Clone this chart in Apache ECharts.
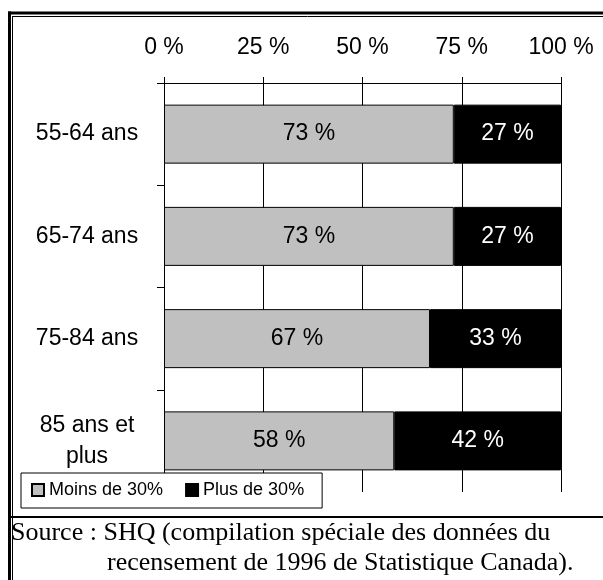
<!DOCTYPE html>
<html>
<head>
<meta charset="utf-8">
<script src="https://cdn.jsdelivr.net/npm/echarts@6/dist/echarts.min.js"></script>
<style>
  html, body { margin: 0; padding: 0; background: #fff; }
  #chart { width: 603px; height: 580px; }
</style>
</head>
<body>
<div id="chart"></div>
<script>
// Age groups and share of households by housing-cost ratio
const categories = ['55-64 ans', '65-74 ans', '75-84 ans', '85 ans et\nplus'];
const moinsDe30 = [73, 73, 67, 58];
const plusDe30 = [27, 27, 33, 42];
const seriesNames = ['Moins de 30%', 'Plus de 30%'];
const sourceLines = [
  'Source : SHQ (compilation spéciale des données du',
  'recensement de 1996 de Statistique Canada).'
];

const SANS = '"Liberation Sans", Arial, sans-serif';
const SERIF = '"Liberation Serif", "Times New Roman", serif';

const chart = echarts.init(document.getElementById('chart'), null, { renderer: 'canvas' });

chart.setOption({
  animation: false,
  backgroundColor: '#fff',
  grid: { left: 164, right: 42, top: 83, height: 409, containLabel: false },
  xAxis: {
    type: 'value',
    position: 'top',
    min: 0,
    max: 100,
    interval: 25,
    axisLine: { show: true, lineStyle: { color: '#000', width: 1 } },
    axisTick: { show: true, length: 6, lineStyle: { color: '#000' } },
    axisLabel: {
      formatter: '{value} %',
      color: '#000',
      fontFamily: SANS,
      fontSize: 23,
      margin: 24
    },
    splitLine: { show: true, lineStyle: { color: '#000', width: 1 } }
  },
  yAxis: {
    type: 'category',
    inverse: true,
    data: categories,
    axisLine: { show: true, lineStyle: { color: '#000', width: 1 } },
    axisTick: { show: true, length: 7, alignWithLabel: false, lineStyle: { color: '#000' } },
    axisLabel: {
      color: '#000',
      fontFamily: SANS,
      fontSize: 23,
      lineHeight: 31,
      align: 'center',
      margin: 77
    }
  },
  legend: {
    left: 21,
    top: 473,
    orient: 'horizontal',
    backgroundColor: '#fff',
    borderColor: '#000',
    borderWidth: 1,
    borderRadius: 0,
    padding: [8, 18, 9, 10],
    itemGap: 22,
    itemWidth: 12,
    itemHeight: 12,
    icon: 'rect',
    textStyle: { color: '#000', fontFamily: SANS, fontSize: 18 },
    data: seriesNames
  },
  series: [
    {
      name: seriesNames[0],
      type: 'bar',
      stack: 'total',
      data: moinsDe30,
      barWidth: 59,
      itemStyle: { color: '#c0c0c0', borderColor: '#000', borderWidth: 1 },
      label: {
        show: true,
        position: 'inside',
        formatter: '{c} %',
        color: '#000',
        fontFamily: SANS,
        fontSize: 23
      }
    },
    {
      name: seriesNames[1],
      type: 'bar',
      stack: 'total',
      data: plusDe30,
      barWidth: 59,
      itemStyle: { color: '#000', borderColor: '#000', borderWidth: 1 },
      label: {
        show: true,
        position: 'inside',
        formatter: '{c} %',
        color: '#fff',
        fontFamily: SANS,
        fontSize: 23
      }
    }
  ],
  graphic: [
    // page frame: thick rule with a thin inner rule, top and left
    { type: 'line', silent: true, shape: { x1: 8, y1: 13, x2: 603, y2: 13 }, style: { stroke: '#000', lineWidth: 3 } },
    { type: 'line', silent: true, shape: { x1: 12, y1: 16.5, x2: 603, y2: 16.5 }, style: { stroke: '#000', lineWidth: 1 } },
    { type: 'line', silent: true, shape: { x1: 9.5, y1: 11.5, x2: 9.5, y2: 580 }, style: { stroke: '#000', lineWidth: 3 } },
    { type: 'line', silent: true, shape: { x1: 12.5, y1: 16, x2: 12.5, y2: 580 }, style: { stroke: '#000', lineWidth: 1 } },
    // rule above the source note
    { type: 'line', silent: true, shape: { x1: 8, y1: 517, x2: 603, y2: 517 }, style: { stroke: '#000', lineWidth: 2 } },
    {
      type: 'text', silent: true, x: 11, y: 533,
      style: { text: sourceLines[0], fill: '#000', font: '26px ' + SERIF, verticalAlign: 'middle' }
    },
    {
      type: 'text', silent: true, x: 107, y: 563,
      style: { text: sourceLines[1], fill: '#000', font: '26px ' + SERIF, verticalAlign: 'middle' }
    }
  ]
});
</script>
</body>
</html>
